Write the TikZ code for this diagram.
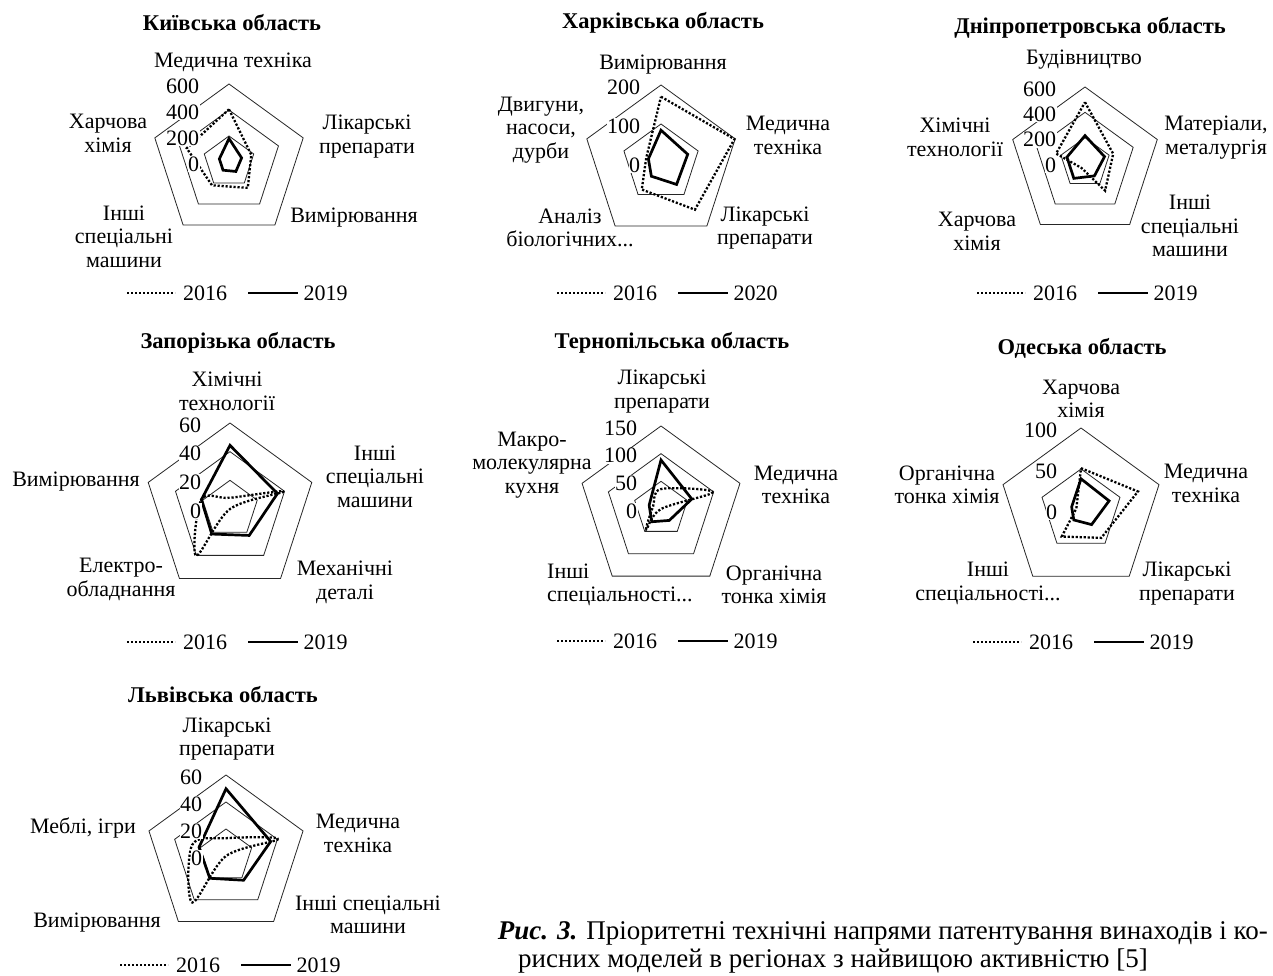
\documentclass[tikz,border=0pt]{standalone}
\usepackage{fontspec}
\usepackage{graphicx}
\setmainfont{Liberation Serif}
\newfontfamily\capfam{Liberation Serif}
\usetikzlibrary{calc}
\newcommand\lblfont{\fontsize{22}{23.5}\selectfont}
\newcommand\capfnt{\capfam\fontsize{27}{29}\selectfont}
\newlength\capwA
\tikzset{
  grid/.style={line width=0.8pt, draw=black!85},
  sA/.style={line width=2.3pt, dash pattern=on 2.2pt off 1.8pt},
  sB/.style={line width=2.7pt, line join=miter},
  lbl/.style={font=\lblfont, align=center, inner sep=0pt},
  ttl/.style={font=\fontsize{22.5}{24}\selectfont\bfseries, inner sep=0pt},
  tck/.style={font=\lblfont, anchor=east, fill=white, inner sep=0.6pt},
}
% grid: name, cx, cy (image px, y down), R, rings
\newcommand\radargrid[5]{%
  \coordinate (#1) at (#2,{975-#3});
  \foreach \k in {1,...,#5}{%
    \draw[grid] ($(#1)+(90:{#4*\k/#5})$) -- ($(#1)+(18:{#4*\k/#5})$) -- ($(#1)+(-54:{#4*\k/#5})$) -- ($(#1)+(-126:{#4*\k/#5})$) -- ($(#1)+(162:{#4*\k/#5})$) -- cycle;
  }%
}
% tick labels: name, R, rings, dx, list
\newcommand\radarticks[5]{%
  \foreach \t [count=\i from 0] in {#5}{%
    \node[tck] (#1tk\i) at ($(#1)+(-#4,{#2*\i/#3-2})$) {\t};
  }%
}
% straight series: style, name, R, five fractions
\newcommand\series[8]{%
  \draw[#1] ($(#2)+(90:{#3*#4})$) -- ($(#2)+(18:{#3*#5})$) -- ($(#2)+(-54:{#3*#6})$) -- ($(#2)+(-126:{#3*#7})$) -- ($(#2)+(162:{#3*#8})$) -- cycle;
}
% smooth series
\newcommand\sseries[8]{%
  \coordinate (#2q1) at ($(#2)+(90:{#3*#4})$);
  \coordinate (#2q2) at ($(#2)+(18:{#3*#5})$);
  \coordinate (#2q3) at ($(#2)+(-54:{#3*#6})$);
  \coordinate (#2q4) at ($(#2)+(-126:{#3*#7})$);
  \coordinate (#2q5) at ($(#2)+(162:{#3*#8})$);
  \draw[#1] plot[smooth cycle, tension=0.55] coordinates {(#2q1) (#2q2) (#2q3) (#2q4) (#2q5)};
}
% legend: name, x start, y, second year
\newcommand\legendrow[4]{%
  \coordinate (#1la) at (#2,{975-#3});
  \coordinate (#1lb) at ($(#1la)+(48,0)$);
  \draw[sA] (#1la) -- (#1lb);
  \node[lbl, anchor=west] (#1lt1) at ($(#1lb)+(8,0)$) {2016};
  \coordinate (#1lc) at ($(#1lt1.east)+(21,0)$);
  \coordinate (#1ld) at ($(#1lc)+(50,0)$);
  \draw[sB, line width=2.4pt] (#1lc) -- (#1ld);
  \node[lbl, anchor=west] (#1lt2) at ($(#1ld)+(5,0)$) {#4};
}
\begin{document}
\settowidth\capwA{\capfnt\textbf{\textit{Рис. 3.}} Пріоритетні технічні напрями патентування винаходів і ко-}%
\pgfmathsetmacro\capf{770/\capwA}%
\begin{tikzpicture}[x=1pt,y=1pt]
\useasboundingbox (0,0) rectangle (1273,975);
\fill[white] (0,0) rectangle (1273,975);

% ---------------- Kyiv
\node[ttl] (kt) at (232,{975-23}) {Київська область};
\radargrid{K}{229}{162}{78}{3}
\series{sA}{K}{78}{0.675}{0.30}{0.41}{0.37}{0.57}
\series{sB}{K}{78}{0.30}{0.17}{0.15}{0.13}{0.13}
\radarticks{K}{78}{3}{29}{0,200,400,600}
\node[lbl] (k1) at (233,{975-62}) {Медична техніка};
\node[lbl] (k2) at (367,{975-136.5}) {Лікарські\\препарати};
\node[lbl] (k3) at (354,{975-218}) {Вимірювання};
\node[lbl] (k4) at (124,{975-236.5}) {Інші\\спеціальні\\машини};
\node[lbl] (k5) at (108,{975-133.5}) {Харчова\\хімія};
\legendrow{K}{127}{293}{2019}

% ---------------- Kharkiv
\node[ttl] (ht) at (663,{975-23}) {Харківська область};
\radargrid{H}{661}{163}{78}{2}
\series{sA}{H}{78}{0.85}{0.99}{0.74}{0.42}{0.2}
\series{sB}{H}{78}{0.42}{0.36}{0.34}{0.21}{0.17}
\radarticks{H}{78}{2}{20}{0,100,200}
\node[lbl] (h1) at (663,{975-65}) {Вимірювання};
\node[lbl] (h2) at (788,{975-135.5}) {Медична\\техніка};
\node[lbl] (h3) at (765,{975-228}) {Лікарські\\препарати};
\node[lbl] (h4) at (570,{975-228}) {Аналіз\\біологічних...};
\node[lbl] (h5) at (541,{975-130}) {Двигуни,\\насоси,\\дурби};
\legendrow{H}{557}{293}{2020}

% ---------------- Dnipro
\node[ttl] (dt) at (1090,{975-28}) {Дніпропетровська область};
\radargrid{D}{1085}{163}{76}{3}
\series{sA}{D}{76}{0.8}{0.39}{0.45}{0.08}{0.4}
\series{sB}{D}{76}{0.36}{0.27}{0.21}{0.25}{0.25}
\radarticks{D}{76}{3}{28}{0,200,400,600}
\node[lbl] (d1) at (1084,{975-60}) {Будівництво};
\node[lbl] (d2) at (1216,{975-137.5}) {Матеріали,\\металургія};
\node[lbl] (d3) at (1190,{975-226}) {Інші\\спеціальні\\машини};
\node[lbl] (d4) at (977,{975-231.5}) {Харчова\\хімія};
\node[lbl] (d5) at (955,{975-137.5}) {Хімічні\\технології};
\legendrow{D}{977}{293}{2019}

% ---------------- Zaporizhzhia
\node[ttl] (zt) at (238,{975-343}) {Запорізька область};
\radargrid{Z}{230}{509}{86}{3}
\sseries{sA}{Z}{86}{0.13}{0.66}{0.0}{0.67}{0.35}
\series{sB}{Z}{86}{0.74}{0.58}{0.38}{0.36}{0.35}
\radarticks{Z}{86}{3}{28}{0,20,40,60}
\node[lbl] (z1) at (227,{975-391.5}) {Хімічні\\технології};
\node[lbl] (z2) at (375,{975-476.5}) {Інші\\спеціальні\\машини};
\node[lbl] (z3) at (345,{975-582.5}) {Механічні\\деталі};
\node[lbl] (z4) at (121,{975-579.5}) {Електро-\\обладнання};
\node[lbl] (z5) at (76,{975-482}) {Вимірювання};
\legendrow{Z}{127}{642}{2019}

% ---------------- Ternopil
\node[ttl] (tt) at (672,{975-343}) {Тернопільська область};
\radargrid{T}{661}{509}{83}{3}
\sseries{sA}{T}{83}{0.24}{0.66}{0.0}{0.3}{0.1}
\series{sB}{T}{83}{0.59}{0.39}{0.17}{0.19}{0.15}
\radarticks{T}{83}{3}{23}{0,50,100,150}
\node[lbl] (t1) at (662,{975-391.5}) {Лікарські\\препарати};
\node[lbl] (t2) at (796,{975-485}) {Медична\\техніка};
\node[lbl] (t3) at (774,{975-585}) {Органічна\\тонка хімія};
\node[lbl, align=left, anchor=west] (t4) at (547,{975-585}) {Інші\\спеціальності...};
\node[lbl] (t5) at (532,{975-465}) {Макро-\\молекулярна\\кухня};
\legendrow{T}{557}{641}{2019}

% ---------------- Odesa
\node[ttl] (ot) at (1082,{975-348}) {Одеська область};
\radargrid{O}{1081}{510}{82}{2}
\series{sA}{O}{82}{0.51}{0.73}{0.42}{0.4}{0.06}
\series{sB}{O}{82}{0.38}{0.36}{0.22}{0.15}{0.12}
\radarticks{O}{82}{2}{23}{0,50,100}
\node[lbl] (o1) at (1081,{975-399}) {Харчова\\хімія};
\node[lbl] (o2) at (1206,{975-483.5}) {Медична\\техніка};
\node[lbl] (o3) at (1187,{975-583.5}) {Лікарські\\препарати};
\node[lbl] (o4) at (988,{975-583.5}) {Інші\\спеціальності...};
\node[lbl] (o5) at (947,{975-485}) {Органічна\\тонка хімія};
\legendrow{O}{973}{642}{2019}

% ---------------- Lviv
\node[ttl] (lt) at (223,{975-695}) {Львівська область};
\radargrid{L}{226}{856}{81}{3}
\sseries{sA}{L}{81}{0.22}{0.68}{0.0}{0.71}{0.44}
\series{sB}{L}{81}{0.83}{0.58}{0.37}{0.34}{0.35}
\radarticks{L}{81}{3}{23}{0,20,40,60}
\node[lbl] (l1) at (227,{975-739}) {Лікарські\\препарати};
\node[lbl] (l2) at (358,{975-833.5}) {Медична\\техніка};
\node[lbl] (l3) at (368,{975-915}) {Інші спеціальні\\машини};
\node[lbl] (l4) at (97,{975-923}) {Вимірювання};
\node[lbl] (l5) at (83,{975-828}) {Меблі, ігри};
\legendrow{L}{120}{965}{2019}

% ---------------- Caption
\node[anchor=base east, inner sep=0pt] (cap1) at (1268,{975-939}) {\scalebox{\capf}[1]{\capfnt\textbf{\textit{Рис. 3.}} Пріоритетні технічні напрями патентування винаходів і ко-}};
\node[anchor=base west, inner sep=0pt] (cap2) at (518,{975-967}) {\scalebox{\capf}[1]{\capfnt рисних моделей в регіонах з найвищою активністю [5]}};
\end{tikzpicture}
\end{document}
